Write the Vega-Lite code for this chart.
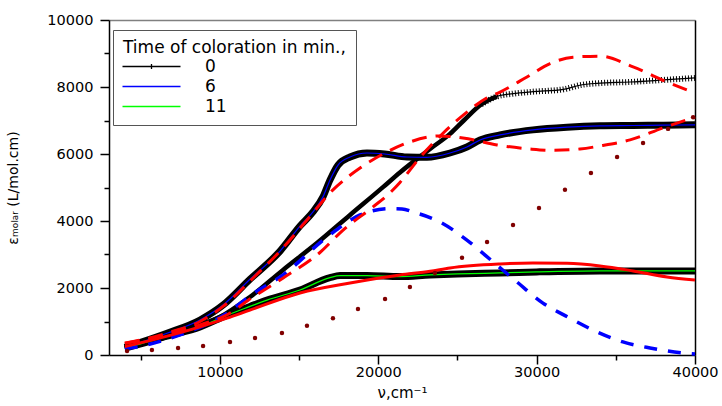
{
  "$schema": "https://vega.github.io/schema/vega-lite/v6.json",
  "width": 586,
  "height": 335,
  "autosize": {"type": "none"},
  "padding": {"left": 109, "top": 20, "right": 27, "bottom": 51},
  "background": "white",
  "config": {
    "view": {"stroke": null},
    "font": "DejaVu Sans",
    "axis": {"grid": false, "labelColor": "black", "titleColor": "black", "domainColor": "black", "tickColor": "black", "domainWidth": 1.5, "tickWidth": 1.5, "labelFontSize": 14.5, "titleFontSize": 14, "titleFontWeight": "normal"}
  },
  "data": {
    "values": [
      {"curve": "0", "v": 4000, "e": 200}, {"curve": "0", "v": 5000, "e": 320}, {"curve": "0", "v": 6660, "e": 540}, {"curve": "0", "v": 8750, "e": 900}, {"curve": "0", "v": 10010, "e": 1135}, {"curve": "0", "v": 11900, "e": 1730}, {"curve": "0", "v": 13990, "e": 2540}, {"curve": "0", "v": 16130, "e": 3340}, {"curve": "0", "v": 18220, "e": 4180}, {"curve": "0", "v": 20300, "e": 5010}, {"curve": "0", "v": 21370, "e": 5450}, {"curve": "0", "v": 23270, "e": 6150}, {"curve": "0", "v": 24530, "e": 6600}, {"curve": "0", "v": 25400, "e": 7000}, {"curve": "0", "v": 26500, "e": 7480}, {"curve": "0", "v": 27500, "e": 7720}, {"curve": "0", "v": 28500, "e": 7800}, {"curve": "0", "v": 29770, "e": 7860}, {"curve": "0", "v": 31700, "e": 7930}, {"curve": "0", "v": 32800, "e": 8060}, {"curve": "0", "v": 33800, "e": 8110}, {"curve": "0", "v": 35900, "e": 8150}, {"curve": "0", "v": 38000, "e": 8210}, {"curve": "0", "v": 40000, "e": 8270},
      {"curve": "6", "v": 4000, "e": 230}, {"curve": "6", "v": 5000, "e": 380}, {"curve": "6", "v": 6660, "e": 650}, {"curve": "6", "v": 8750, "e": 1045}, {"curve": "6", "v": 10200, "e": 1490}, {"curve": "6", "v": 11900, "e": 2260}, {"curve": "6", "v": 13800, "e": 3100}, {"curve": "6", "v": 15060, "e": 3850}, {"curve": "6", "v": 15880, "e": 4270}, {"curve": "6", "v": 16510, "e": 4720}, {"curve": "6", "v": 16950, "e": 5220}, {"curve": "6", "v": 17460, "e": 5670}, {"curve": "6", "v": 18220, "e": 5910}, {"curve": "6", "v": 19290, "e": 6030}, {"curve": "6", "v": 20400, "e": 6000}, {"curve": "6", "v": 21810, "e": 5910}, {"curve": "6", "v": 23080, "e": 5900}, {"curve": "6", "v": 24530, "e": 6030}, {"curve": "6", "v": 25600, "e": 6210}, {"curve": "6", "v": 26430, "e": 6420}, {"curve": "6", "v": 27690, "e": 6570}, {"curve": "6", "v": 29770, "e": 6720}, {"curve": "6", "v": 31920, "e": 6800}, {"curve": "6", "v": 34000, "e": 6840}, {"curve": "6", "v": 36090, "e": 6850}, {"curve": "6", "v": 38000, "e": 6860}, {"curve": "6", "v": 40000, "e": 6870},
      {"curve": "11", "v": 4000, "e": 200}, {"curve": "11", "v": 5000, "e": 330}, {"curve": "11", "v": 6660, "e": 560}, {"curve": "11", "v": 8750, "e": 840}, {"curve": "11", "v": 10450, "e": 1190}, {"curve": "11", "v": 11900, "e": 1450}, {"curve": "11", "v": 12980, "e": 1640}, {"curve": "11", "v": 15060, "e": 1940}, {"curve": "11", "v": 16950, "e": 2310}, {"curve": "11", "v": 17590, "e": 2370}, {"curve": "11", "v": 19290, "e": 2370}, {"curve": "11", "v": 21370, "e": 2340}, {"curve": "11", "v": 23270, "e": 2390}, {"curve": "11", "v": 25000, "e": 2420}, {"curve": "11", "v": 27690, "e": 2450}, {"curve": "11", "v": 30000, "e": 2480}, {"curve": "11", "v": 34000, "e": 2510}, {"curve": "11", "v": 37000, "e": 2510}, {"curve": "11", "v": 40000, "e": 2510},
      {"curve": "fit6", "v": 4000, "e": 350}, {"curve": "fit6", "v": 5500, "e": 500}, {"curve": "fit6", "v": 7000, "e": 700}, {"curve": "fit6", "v": 8750, "e": 1000}, {"curve": "fit6", "v": 10200, "e": 1450}, {"curve": "fit6", "v": 12100, "e": 2300}, {"curve": "fit6", "v": 13600, "e": 3000}, {"curve": "fit6", "v": 15500, "e": 4030}, {"curve": "fit6", "v": 17140, "e": 4930}, {"curve": "fit6", "v": 18850, "e": 5580}, {"curve": "fit6", "v": 20550, "e": 6060}, {"curve": "fit6", "v": 22000, "e": 6360}, {"curve": "fit6", "v": 23900, "e": 6540}, {"curve": "fit6", "v": 25350, "e": 6480}, {"curve": "fit6", "v": 27500, "e": 6270}, {"curve": "fit6", "v": 29580, "e": 6150}, {"curve": "fit6", "v": 31000, "e": 6110}, {"curve": "fit6", "v": 32740, "e": 6150}, {"curve": "fit6", "v": 34000, "e": 6240}, {"curve": "fit6", "v": 35900, "e": 6420}, {"curve": "fit6", "v": 37980, "e": 6780}, {"curve": "fit6", "v": 40000, "e": 7100},
      {"curve": "fit0", "v": 4000, "e": 350}, {"curve": "fit0", "v": 5500, "e": 480}, {"curve": "fit0", "v": 7000, "e": 650}, {"curve": "fit0", "v": 8750, "e": 900}, {"curve": "fit0", "v": 10450, "e": 1200}, {"curve": "fit0", "v": 12000, "e": 1700}, {"curve": "fit0", "v": 14000, "e": 2300}, {"curve": "fit0", "v": 16320, "e": 3060}, {"curve": "fit0", "v": 17780, "e": 3730}, {"curve": "fit0", "v": 19670, "e": 4420}, {"curve": "fit0", "v": 20740, "e": 4840}, {"curve": "fit0", "v": 21370, "e": 5150}, {"curve": "fit0", "v": 22640, "e": 5900}, {"curve": "fit0", "v": 24090, "e": 6620}, {"curve": "fit0", "v": 25600, "e": 7250}, {"curve": "fit0", "v": 26870, "e": 7680}, {"curve": "fit0", "v": 27690, "e": 7850}, {"curve": "fit0", "v": 29390, "e": 8300}, {"curve": "fit0", "v": 30850, "e": 8700}, {"curve": "fit0", "v": 32300, "e": 8890}, {"curve": "fit0", "v": 34000, "e": 8920}, {"curve": "fit0", "v": 36090, "e": 8600}, {"curve": "fit0", "v": 38230, "e": 8150}, {"curve": "fit0", "v": 40000, "e": 7820},
      {"curve": "fit11", "v": 4000, "e": 250}, {"curve": "fit11", "v": 6000, "e": 480}, {"curve": "fit11", "v": 8750, "e": 840}, {"curve": "fit11", "v": 10450, "e": 1100}, {"curve": "fit11", "v": 11900, "e": 1340}, {"curve": "fit11", "v": 15060, "e": 1850}, {"curve": "fit11", "v": 18220, "e": 2150}, {"curve": "fit11", "v": 21370, "e": 2390}, {"curve": "fit11", "v": 23270, "e": 2500}, {"curve": "fit11", "v": 24530, "e": 2600}, {"curve": "fit11", "v": 27690, "e": 2720}, {"curve": "fit11", "v": 29770, "e": 2750}, {"curve": "fit11", "v": 31920, "e": 2740}, {"curve": "fit11", "v": 34000, "e": 2660}, {"curve": "fit11", "v": 36090, "e": 2510}, {"curve": "fit11", "v": 38230, "e": 2330}, {"curve": "fit11", "v": 40000, "e": 2240},
      {"curve": "blue", "v": 4000, "e": 180}, {"curve": "blue", "v": 4520, "e": 220}, {"curve": "blue", "v": 7480, "e": 600}, {"curve": "blue", "v": 10450, "e": 1250}, {"curve": "blue", "v": 12000, "e": 1800}, {"curve": "blue", "v": 13990, "e": 2390}, {"curve": "blue", "v": 16760, "e": 3520}, {"curve": "blue", "v": 18850, "e": 4180}, {"curve": "blue", "v": 20740, "e": 4370}, {"curve": "blue", "v": 21500, "e": 4360}, {"curve": "blue", "v": 22200, "e": 4270}, {"curve": "blue", "v": 23900, "e": 3970}, {"curve": "blue", "v": 25600, "e": 3430}, {"curve": "blue", "v": 27250, "e": 2780}, {"curve": "blue", "v": 28760, "e": 2180}, {"curve": "blue", "v": 30400, "e": 1550}, {"curve": "blue", "v": 32100, "e": 1100}, {"curve": "blue", "v": 33810, "e": 690}, {"curve": "blue", "v": 35450, "e": 390}, {"curve": "blue", "v": 37160, "e": 210}, {"curve": "blue", "v": 39240, "e": 60}, {"curve": "blue", "v": 40000, "e": 30},
      {"curve": "dot", "v": 4140, "e": 120}, {"curve": "dot", "v": 5710, "e": 150}, {"curve": "dot", "v": 7360, "e": 210}, {"curve": "dot", "v": 8940, "e": 270}, {"curve": "dot", "v": 10640, "e": 390}, {"curve": "dot", "v": 12220, "e": 510}, {"curve": "dot", "v": 13920, "e": 660}, {"curve": "dot", "v": 15500, "e": 870}, {"curve": "dot", "v": 17140, "e": 1100}, {"curve": "dot", "v": 18720, "e": 1370}, {"curve": "dot", "v": 20430, "e": 1670}, {"curve": "dot", "v": 22000, "e": 2030}, {"curve": "dot", "v": 23580, "e": 2450}, {"curve": "dot", "v": 25290, "e": 2900}, {"curve": "dot", "v": 26870, "e": 3370}, {"curve": "dot", "v": 28510, "e": 3880}, {"curve": "dot", "v": 30150, "e": 4390}, {"curve": "dot", "v": 31790, "e": 4930}, {"curve": "dot", "v": 33430, "e": 5430}, {"curve": "dot", "v": 35080, "e": 5910}, {"curve": "dot", "v": 36720, "e": 6330}, {"curve": "dot", "v": 38300, "e": 6750}, {"curve": "dot", "v": 39880, "e": 7100}
    ]
  },
  "layer": [
    {
      "encoding": {
        "x": {"field": "v", "type": "quantitative", "scale": {"domain": [3000, 40000], "nice": false, "zero": false},
          "axis": {"title": "ν,cm⁻¹", "values": [5000, 10000, 15000, 20000, 25000, 30000, 35000, 40000], "format": "d",
            "labelExpr": "datum.value % 10000 === 0 ? datum.label : ''",
            "tickSize": {"condition": {"test": "datum.value % 10000 === 0", "value": 9}, "value": 5},
            "labelFlush": false, "labelOverlap": false, "labelPadding": 1, "titlePadding": 7, "titleFontSize": 15}},
        "y": {"field": "e", "type": "quantitative", "scale": {"domain": [0, 10000], "nice": false},
          "axis": {"title": "εₘₒₗₐᵣ (L/mol.cm)", "values": [0, 1000, 2000, 3000, 4000, 5000, 6000, 7000, 8000, 9000, 10000], "format": "d",
            "labelExpr": "datum.value % 2000 === 0 ? datum.label : ''",
            "tickSize": {"condition": {"test": "datum.value % 2000 === 0", "value": 9}, "value": 5},
            "labelOverlap": false, "labelPadding": 7, "titlePadding": 26}}
      },
      "layer": [
        {"transform": [{"filter": "datum.curve === '6' || datum.curve === '11'"}],
         "mark": {"type": "line", "color": "black", "strokeWidth": 7, "interpolate": "monotone"},
         "encoding": {"detail": {"field": "curve"}}},
        {"transform": [{"filter": "datum.curve === '0' && datum.v <= 27500"}],
         "mark": {"type": "line", "color": "black", "strokeWidth": 4.5, "interpolate": "monotone"},
         "encoding": {}},
        {"transform": [{"filter": "datum.curve === '0' && datum.v >= 26500"}],
         "mark": {"type": "line", "color": "black", "strokeWidth": 6, "strokeDash": [1, 2], "interpolate": "monotone"},
         "encoding": {}},
        {"transform": [{"filter": "datum.curve === '0' || datum.curve === '6' || datum.curve === '11'"}],
         "mark": {"type": "line", "strokeWidth": 1.2, "interpolate": "monotone"},
         "encoding": {
           "color": {"field": "curve", "type": "nominal", "scale": {"domain": ["0", "6", "11"], "range": ["black", "#0000ff", "#00ff00"]},
             "legend": {"title": "Time of coloration in min.,", "orient": "none", "legendX": 4, "legendY": 10,
               "strokeColor": "#555555", "fillColor": "white", "padding": 10,
               "titleFontSize": 17, "titleFontWeight": "normal", "titleColor": "black", "titlePadding": 1, "titleLimit": 500,
               "labelFontSize": 17, "labelColor": "black",
               "symbolType": "M-5.8,0L5.8,0", "symbolSize": 100, "symbolStrokeWidth": 1.3,
               "symbolOffset": 20, "labelOffset": 45, "rowPadding": 2,
               "encode": {"symbols": {"update": {"shape": {"signal": "datum.value === '0' ? 'M-5.8,0L5.8,0M0,-0.5L0,0.5' : 'M-5.8,0L5.8,0'"}}}}}}
         }},
        {"transform": [{"filter": "datum.curve === 'blue'"}],
         "mark": {"type": "line", "color": "#0000ff", "strokeWidth": 3.5, "strokeDash": [13, 11], "interpolate": "monotone"},
         "encoding": {}},
        {"transform": [{"filter": "datum.curve === 'fit0' || datum.curve === 'fit6'"}],
         "mark": {"type": "line", "color": "#ff0000", "strokeWidth": 3, "strokeDash": [15, 9], "interpolate": "monotone"},
         "encoding": {"detail": {"field": "curve"}}},
        {"transform": [{"filter": "datum.curve === 'fit11'"}],
         "mark": {"type": "line", "color": "#ff0000", "strokeWidth": 3, "interpolate": "monotone"},
         "encoding": {}}
      ]
    },
    {
      "transform": [{"filter": "datum.curve === 'dot'"}],
      "mark": {"type": "point", "filled": true, "color": "#800000", "size": 20, "opacity": 1},
      "encoding": {
        "x": {"field": "v", "type": "quantitative", "scale": {"domain": [3000, 40000], "nice": false, "zero": false},
          "axis": {"orient": "top", "title": null, "labels": false, "ticks": false, "domainColor": "#808080"}},
        "y": {"field": "e", "type": "quantitative", "scale": {"domain": [0, 10000], "nice": false},
          "axis": {"orient": "right", "title": null, "labels": false, "ticks": false, "domainColor": "black"}}
      }
    }
  ],
  "resolve": {"axis": {"x": "independent", "y": "independent"}}
}
